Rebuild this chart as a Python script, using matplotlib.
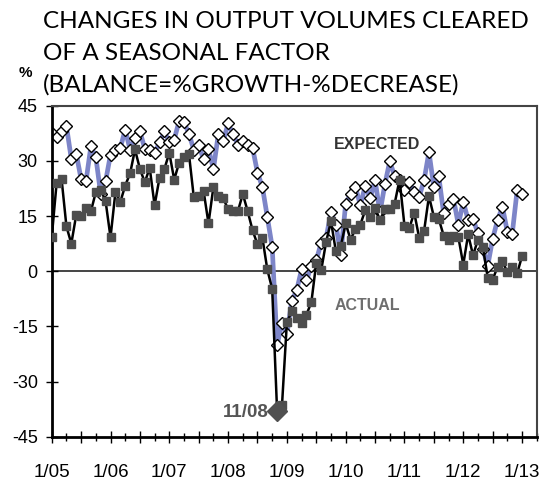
import numpy as np
import matplotlib.pyplot as plt
from matplotlib.ticker import FixedLocator

# monthly balances, Jan 2005 .. Jan 2013
EXPECTED = [
    37.5, 36.5, 38.0, 39.5, 30.5, 32.0, 25.0, 24.5, 34.0, 31.0, 21.0, 24.5,
    31.7, 33.0, 33.5, 38.5, 33.0, 36.3, 38.0, 33.3, 33.0, 32.2, 35.0, 38.0,
    35.0, 35.8, 40.8, 40.5, 37.4, 33.0, 34.2, 30.4, 33.3, 27.7, 37.2, 35.3,
    40.2, 37.2, 34.4, 35.3, 34.4, 33.5, 26.8, 22.9, 14.8, 6.6, -20.1, -14.0,
    -17.2, -8.0, -5.2, 0.5, -2.5, 1.5, 3.0, 7.7, 9.0, 16.0, 12.7, 4.5,
    18.4, 21.1, 22.9, 17.9, 23.3, 19.8, 24.7, 16.0, 23.6, 29.9, 25.8, 24.9,
    22.2, 24.2, 21.5, 20.2, 24.7, 32.4, 22.9, 25.8, 15.7, 18.4, 19.7, 12.7,
    18.9, 13.9, 14.2, 10.3, 6.0, 1.5, 8.8, 13.9, 17.5, 10.7, 10.2, 22.0,
    20.9,
]
ACTUAL = [
    9.2, 24.0, 25.2, 12.2, 7.5, 15.3, 15.0, 17.2, 16.3, 21.5, 22.2, 19.0,
    9.2, 21.5, 18.8, 23.3, 26.6, 33.1, 27.8, 24.2, 28.1, 17.9, 25.4, 27.8,
    32.2, 24.9, 29.5, 31.1, 32.0, 20.1, 20.5, 21.8, 13.0, 22.9, 20.4, 19.9,
    16.8, 16.3, 16.3, 21.0, 16.3, 11.1, 7.3, 9.1, 0.5, -4.8, -38.0, -36.5,
    -13.9, -10.9, -12.7, -14.0, -11.8, -8.4, 2.3, 0.2, 7.9, 13.6, 5.4, 6.8,
    13.0, 8.6, 11.5, 12.7, 16.6, 14.8, 17.2, 13.9, 16.8, 16.8, 18.4, 24.9,
    12.4, 11.8, 15.9, 9.1, 10.9, 20.4, 14.8, 14.2, 9.7, 8.6, 9.7, 9.3,
    1.8, 10.0, 4.3, 8.6, 6.6, -1.8, -2.3, 1.2, 2.7, -0.3, 1.2, -0.6,
    4.1,
]
YEAR_LABELS = ["1/05", "1/06", "1/07", "1/08", "1/09", "1/10", "1/11", "1/12", "1/13"]
LOW_MONTH = 46          # Nov 2008
LOW_LABEL = "11/08"

EXP_COLOR = "#7d85c8"
ACT_COLOR = "#4d4d4d"

months = np.arange(len(EXPECTED))

fig = plt.figure(figsize=(5.55, 4.86), dpi=100)
ax = fig.add_axes([0.0932, 0.1014, 0.8739, 0.6811])

ax.axhline(0, color="#444444", linewidth=1.4, zorder=1)

ax.plot(months, EXPECTED, color=EXP_COLOR, linewidth=3.4, zorder=2,
        marker="D", markersize=6.0, markerfacecolor="white",
        markeredgecolor="black", markeredgewidth=1.0)
ax.plot(months, ACTUAL, color="black", linewidth=1.8, zorder=3,
        marker="s", markersize=6.2, markerfacecolor=ACT_COLOR,
        markeredgecolor=ACT_COLOR)
ax.plot([months[LOW_MONTH]], [ACTUAL[LOW_MONTH]], marker="D", markersize=10,
        color="#505050", zorder=4, linestyle="none")

ax.set_xlim(0, 99)
ax.set_ylim(-45, 45)
ax.set_yticks(np.arange(-45, 46, 15))
ax.set_yticklabels([str(v) for v in range(-45, 46, 15)],
                   fontsize=13, family="Liberation Sans")

ax.xaxis.set_major_locator(FixedLocator(np.arange(0, 100, 6)))
ax.xaxis.set_minor_locator(FixedLocator(np.arange(3, 100, 6)))
labels = []
for p in np.arange(0, 100, 6):
    labels.append(YEAR_LABELS[p // 12] if p % 12 == 0 else "")
ax.set_xticklabels(labels, fontsize=13.5, family="Liberation Sans")
ax.tick_params(axis="x", which="major", direction="inout", length=9,
               width=1.0, pad=15)
ax.tick_params(axis="x", which="minor", direction="inout", length=6, width=1.0)
ax.tick_params(axis="y", direction="inout", length=8, width=1.0, pad=6)

for side in ["left", "bottom"]:
    ax.spines[side].set_linewidth(2.0)
    ax.spines[side].set_color("black")
for side in ["top", "right"]:
    ax.spines[side].set_linewidth(1.5)
    ax.spines[side].set_color("#444444")

ax.text(66.5, 34.4, "EXPECTED", fontsize=11.5, fontweight="bold",
        color="#333333", ha="center", va="center", family="Liberation Sans")
ax.text(64.5, -9.3, "ACTUAL", fontsize=11.5, fontweight="bold",
        color="#6e6e6e", ha="center", va="center", family="Liberation Sans")
ax.text(44.3, -38.4, LOW_LABEL, fontsize=13.5, fontweight="bold",
        color="#555555", ha="right", va="center", family="Liberation Sans")

title = ["CHANGES IN OUTPUT VOLUMES CLEARED", "OF A SEASONAL FACTOR",
         "(BALANCE=%GROWTH-%DECREASE)"]
for i, line in enumerate(title):
    fig.text(43 / 555, 1 - (21 + 32 * i) / 486, line, fontsize=17.5,
             family="Lato", ha="left", va="center", color="black")
fig.text(25 / 555, 1 - 73 / 486, "%", fontsize=11, fontweight="bold",
         family="Liberation Sans", ha="center", va="center")

fig.savefig("out.png", dpi=100)
